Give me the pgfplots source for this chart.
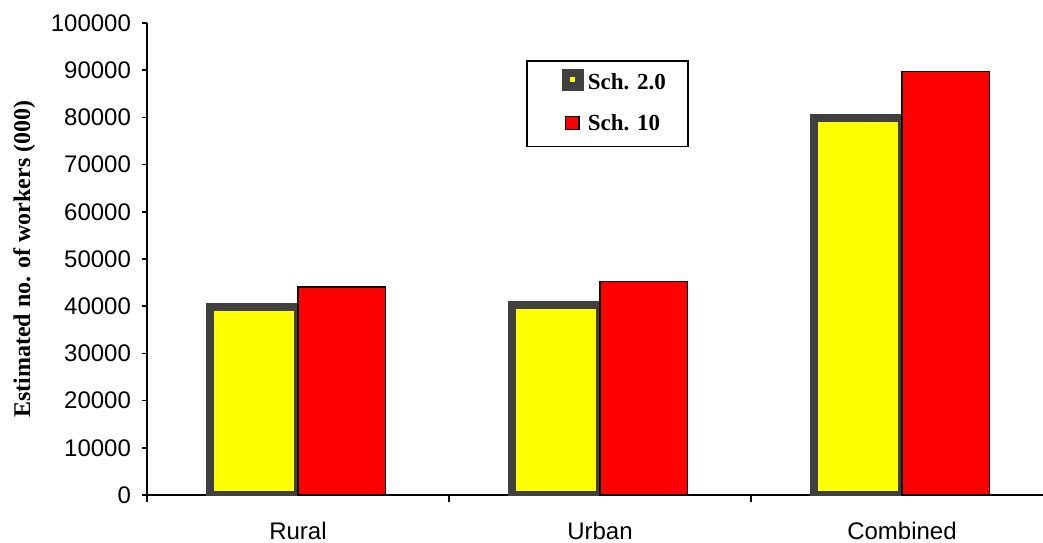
\documentclass[border=0pt]{standalone}
\usepackage{fontspec}
\setmainfont{Liberation Sans}
\newfontfamily\timesf{Liberation Serif}
\usepackage{pgfplots}
\pgfplotsset{compat=1.18}
\definecolor{sgray}{HTML}{404040}
\definecolor{byellow}{HTML}{FFFF00}
\definecolor{bred}{HTML}{FF0000}
\begin{document}
\begin{tikzpicture}
\begin{axis}[name=ax, scale only axis, width=448pt, height=236pt,
  xmin=-0.5, xmax=2.467, ymin=0, ymax=100000,
  axis lines*=left, axis line style={-, line width=1pt, black},
  ybar, bar width=0.29,
  xtick={0,1,2}, xticklabels={Rural,Urban,Combined},
  major x tick style={draw=none},
  minor xtick={-0.5,0.5,1.5},
  ytick={0,10000,...,100000},
  scaled y ticks=false,
  /pgf/number format/assume math mode=true,
  yticklabel style={/pgf/number format/fixed, /pgf/number format/1000 sep={}, xshift=-2pt},
  xticklabel style={yshift=-7.5pt},
  tick label style={font=\fontsize{12}{14}\selectfont},
  tick align=outside, major tick length=2.5pt, minor tick length=3.5pt,
  tick style={black, line width=0.8pt},
  every axis y label/.style={at={(axis description cs:-0.137,0.5)}, rotate=90, anchor=center},
  ylabel={\timesf\bfseries\fontsize{12}{14}\selectfont Estimated no. of workers (000)},
  legend style={at={(axis description cs:0.423,0.9216)}, anchor=north west,
    draw=black, line width=0.8pt, inner xsep=10pt, inner ysep=4pt, row sep=8.9pt,
    font=\timesf\bfseries\fontsize{11.5}{13}\selectfont, nodes={inner sep=1pt}},
  legend cell align=left,
]
\addplot[fill=byellow, draw=sgray, line width=4pt, bar shift=-0.145,
  legend image code/.code={\path[draw=none] (0pt,-3.8pt) (19.5pt,7.2pt);
    \path[overlay, fill=sgray, draw=none, line width=0pt] (7.5pt,-3.9pt) rectangle (18.6pt,7.3pt);
    \path[overlay, fill=byellow, draw=none, line width=0pt] (11.75pt,0.45pt) rectangle (14.25pt,2.95pt);}]
  coordinates {(0,39800) (1,40200) (2,79800)};
\addplot[fill=bred, draw=black, line width=0.7pt, bar shift=0.145,
  legend image code/.code={\path[draw=none] (0pt,-7.3pt) (19.5pt,3.7pt);
    \path[overlay, fill=bred, draw=black, line width=0.7pt] (9.35pt,-2.8pt) rectangle (16pt,3.7pt);}]
  coordinates {(0,44100) (1,45200) (2,89700)};
\legend{Sch. 2.0, Sch. 10}
\end{axis}
\pgfresetboundingbox
\path[use as bounding box] ([xshift=-73.5pt,yshift=-23.5pt]ax.south west) rectangle ([xshift=448pt,yshift=11.5pt]ax.north west);
\end{tikzpicture}
\end{document}
